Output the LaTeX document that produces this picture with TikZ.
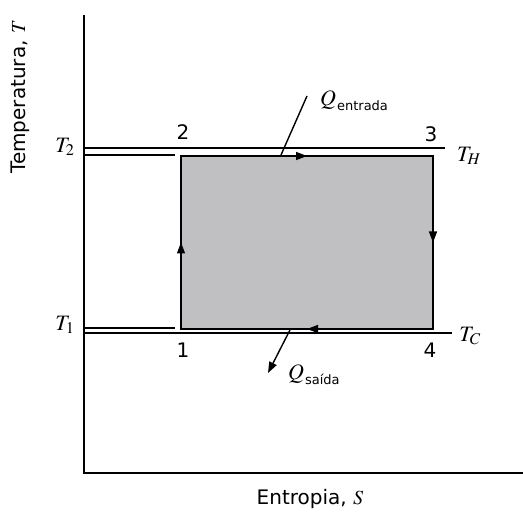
\documentclass[tikz,border=0pt]{standalone}
\usepackage{mathptmx}
\usepackage{fontspec}
\setmainfont{DejaVu Sans}
\usepackage{tikz}
\usetikzlibrary{arrows.meta, positioning, calc}
\usepackage{xcolor}
\definecolor{cyclegray}{RGB}{192,192,194}
\newcommand{\heatlabel}[1]{$Q$\kern1pt\raisebox{-5pt}{\fontsize{13}{15}\selectfont #1}}

\begin{document}
\begin{tikzpicture}[x=1pt,y=-1pt,
    axis/.style={line width=1.6pt},
    iso/.style={line width=1.4pt},
    tip/.style={-{Triangle[length=11pt,width=8pt]},line width=1.4pt},
    heat/.style={line width=1.4pt},
    corner/.style={font=\fontsize{20}{24}\selectfont,inner sep=0pt},
    templ/.style={font=\fontsize{22}{26}\selectfont,inner sep=0pt}]
    \useasboundingbox (0,0) rectangle (523,513);
    % axes
    \coordinate (o) at (84,473);
    \coordinate (ytop) at (84,15);
    \coordinate (xend) at (523,473);
    \draw[axis](ytop)--(o)--(xend);
    % cycle corners
    \coordinate (c1) at (181,329);
    \coordinate (c2) at (181,156);
    \coordinate (c3) at (433,156);
    \coordinate (c4) at (433,329);
    \fill[cyclegray](c1) rectangle (c3);
    \draw[iso](c1)--(c2)--(c3)--(c4)--cycle;
    \draw[tip](c1)--($(c1)!0.5!(c2)$);
    \draw[tip](c2)--($(c2)!0.5!(c3)$);
    \draw[tip](c3)--($(c3)!0.5!(c4)$);
    \draw[tip](c4)--($(c4)!0.5!(c1)$);
    % reservoir lines
    \coordinate (th0) at (84,148);  \coordinate (th1) at (445,148);
    \coordinate (t20) at (84,155);  \coordinate (t21) at (175,155);
    \coordinate (t10) at (84,328);  \coordinate (t11) at (175,328);
    \coordinate (tc0) at (84,333);  \coordinate (tc1) at (452,333);
    \draw[iso](th0)--(th1);
    \draw[iso](t20)--(t21);
    \draw[iso](t10)--(t11);
    \draw[iso](tc0)--(tc1);
    % labels
    \node[corner](n1) at (183,350){1};
    \node[corner](n2) at (183,132){2};
    \node[corner](n3) at (431,134){3};
    \node[corner](n4) at (430,350){4};
    \node[templ](t2) at (65,147){$T_2$};
    \node[templ](t1) at (65,325){$T_1$};
    \node[templ](th) at (469,156){$T_H$};
    \node[templ](tc) at (470,336){$T_C$};
    % heat in / out
    \coordinate (qin0) at (281,155);
    \coordinate (qin1) at (307,96);
    \draw[heat](qin0)--(qin1);
    \node[templ,anchor=west](qin) at (320,101){\heatlabel{entrada}};
    \coordinate (qout0) at (290,330);
    \coordinate (qout1) at (268,373);
    \draw[tip](qout0)--(qout1);
    \node[templ,anchor=west](qout) at (288,375){\heatlabel{saída}};
    % axis titles
    \node[font=\fontsize{20}{24}\selectfont,rotate=90](ylab) at (20,97){Temperatura, $T$};
    \node[font=\fontsize{20}{24}\selectfont](xlab) at (310,499){Entropia, $S$};
  \end{tikzpicture}
\end{document}
